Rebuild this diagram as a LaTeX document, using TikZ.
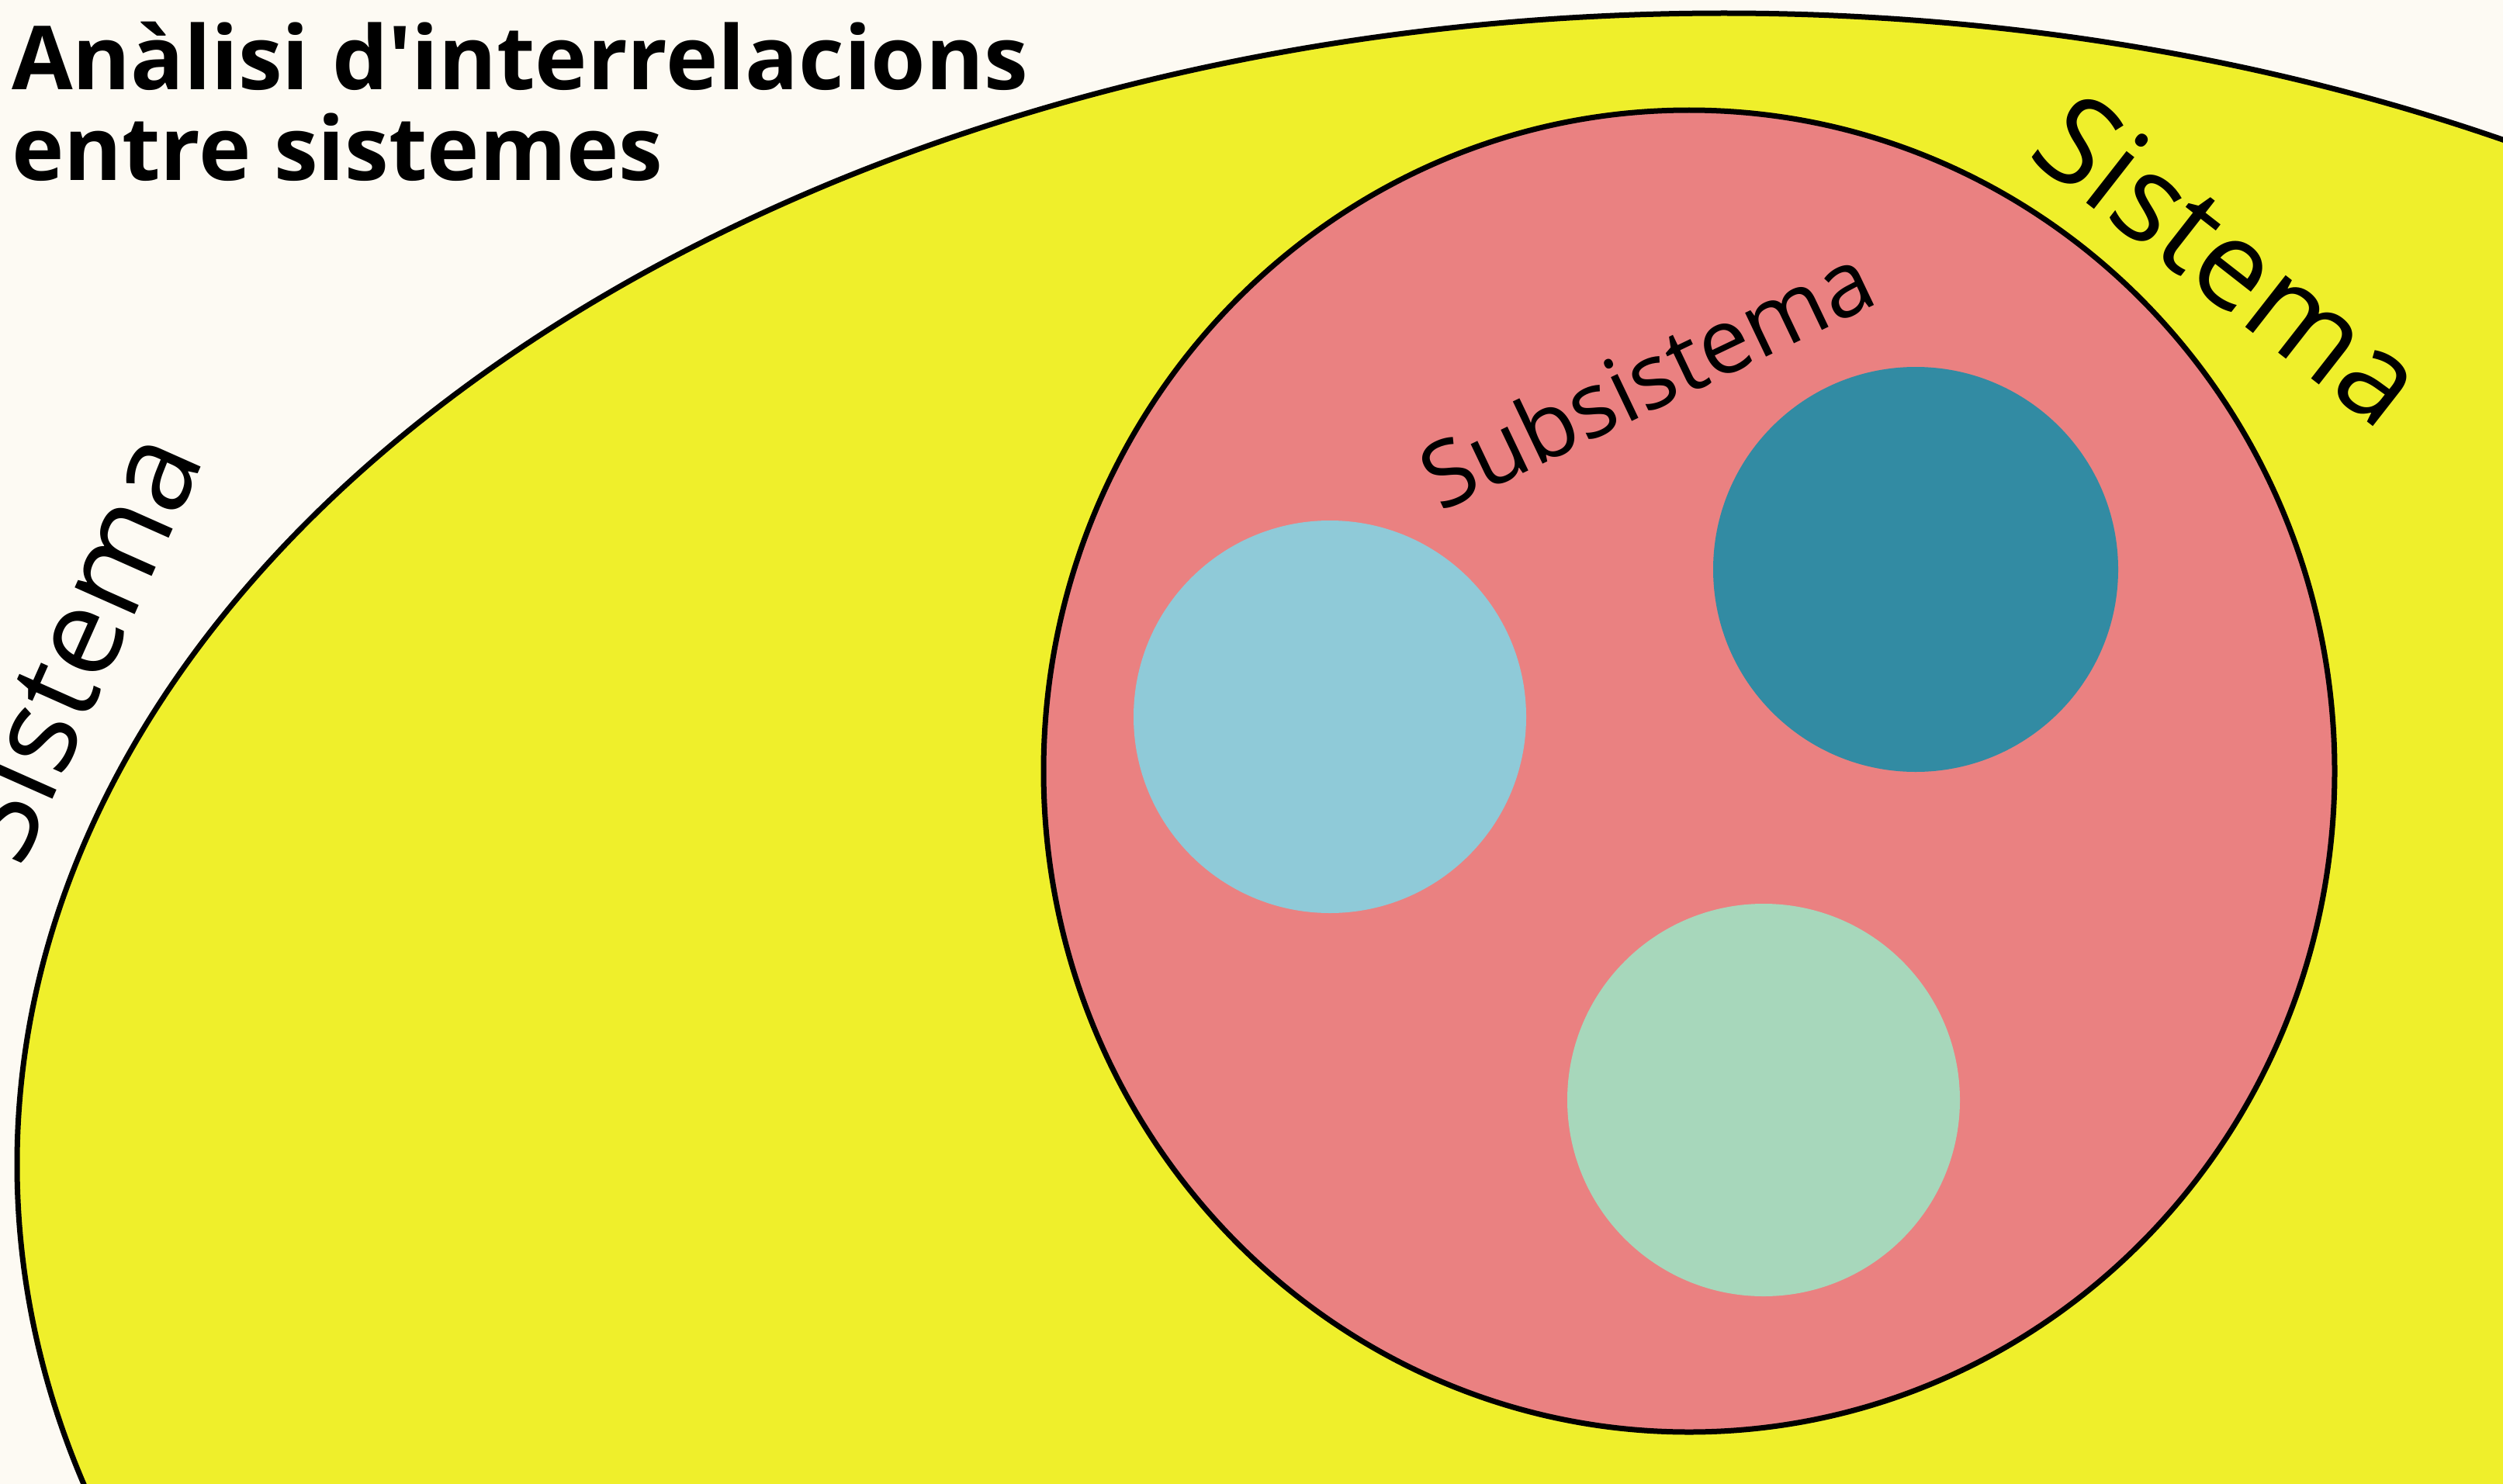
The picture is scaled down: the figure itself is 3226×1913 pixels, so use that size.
\documentclass[tikz,border=0pt]{standalone}
\usepackage{fontspec}
\newfontfamily\opensans{Open Sans}
\definecolor{bgcream}{HTML}{FDFAF3}
\definecolor{sysyellow}{HTML}{EFEF2B}
\definecolor{subred}{HTML}{EA8181}
\definecolor{cblue}{HTML}{8FCAD8}
\definecolor{cteal}{HTML}{328BA3}
\definecolor{cgreen}{HTML}{A7D7BB}
\tikzset{
  outline/.style={draw=black, line width=7pt},
  label/.style={inner sep=0pt, font=\opensans\fontsize{158}{165}\selectfont},
  sublabel/.style={inner sep=0pt, font=\opensans\fontsize{117}{122}\selectfont},
  titletext/.style={inner sep=0pt, anchor=base west, font=\opensans\bfseries\fontsize{114}{118}\selectfont},
}
\begin{document}
\begin{tikzpicture}[x=1pt, y=-1pt]
\useasboundingbox (0,0) rectangle (3226,1913);
\clip (0,0) rectangle (3226,1913);
\fill[bgcream] (0,0) rectangle (3226,1913);
% system ellipse
\path[fill=sysyellow, outline] (2222,1501) ellipse [x radius=2200pt, y radius=1484pt];
% subsystem
\path[fill=subred, outline] (2177,994) ellipse [x radius=832pt, y radius=852pt];
% inner components
\fill[cblue] (1714,924) circle [radius=253pt];
\fill[cteal] (2469,734) circle [radius=261pt];
\fill[cgreen] (2273,1418) circle [radius=253pt];
% labels
\node[label, anchor=base east, rotate=66] (sysleft) at (264,590) {Sistema};
\node[label, anchor=base west, rotate=-38] (sysright) at (2610,200) {Sistema};
\node[sublabel, anchor=base west, rotate=25.5] (sub) at (1856,661) {Subsistema};
% title
\node[titletext] (title1) at (15,116) {Anàlisi d'interrelacions};
\node[titletext] (title2) at (15,233) {entre sistemes};
\end{tikzpicture}
\end{document}
